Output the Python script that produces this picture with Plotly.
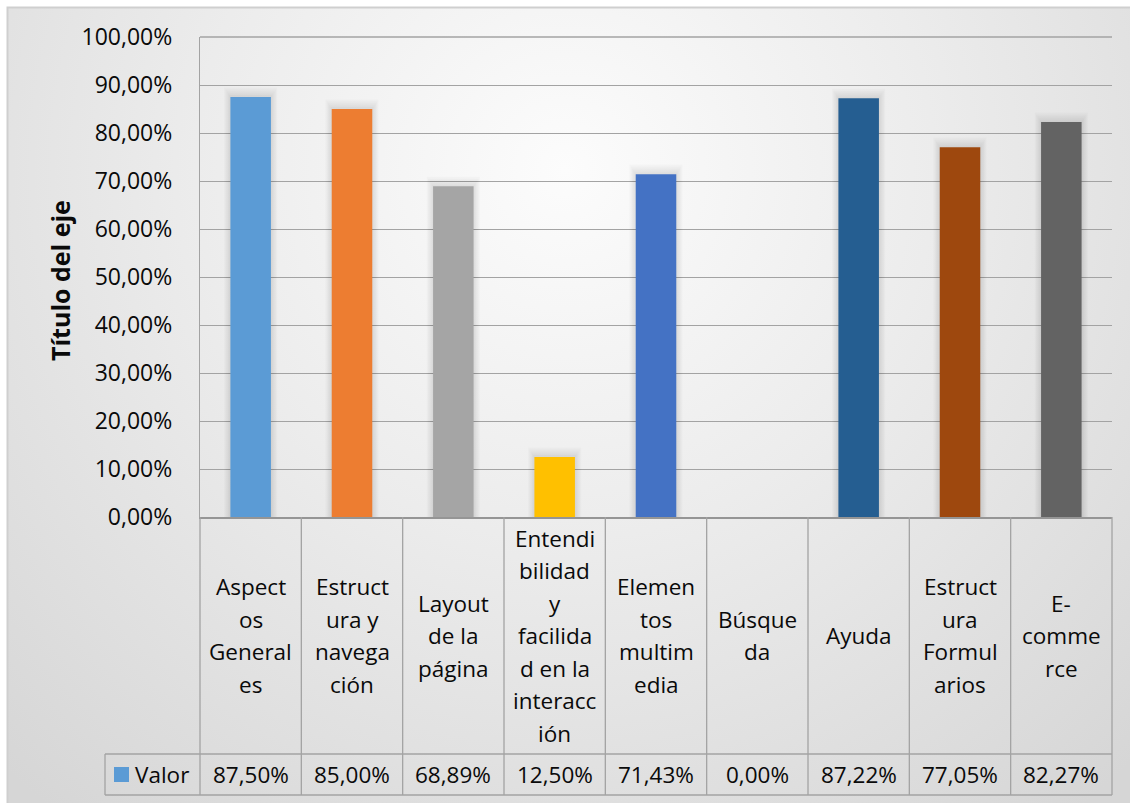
import base64
import plotly.graph_objects as go

# ---- data ----
categories = [
    "Aspectos Generales", "Estructura y navegación", "Layout de la página",
    "Entendibilidad y facilidad en la interacción", "Elementos multimedia",
    "Búsqueda", "Ayuda", "Estructura Formularios", "E-commerce",
]
label_lines = [
    ["Aspect", "os", "General", "es"],
    ["Estruct", "ura y", "navega", "ción"],
    ["Layout", "de la", "página"],
    ["Entendi", "bilidad", "y", "facilida", "d en la", "interacc", "ión"],
    ["Elemen", "tos", "multim", "edia"],
    ["Búsque", "da"],
    ["Ayuda"],
    ["Estruct", "ura", "Formul", "arios"],
    ["E-", "comme", "rce"],
]
values = [0.875, 0.85, 0.6889, 0.125, 0.7143, 0.0, 0.8722, 0.7705, 0.8227]
colors = ["#5B9BD5", "#ED7D31", "#A5A5A5", "#FFC000", "#4472C4",
          "#70AD47", "#255E91", "#9E480E", "#636363"]
series_name = "Valor"
y_title = "Título del eje"

# ---- geometry (pixels) ----
W, H = 1130, 803
L, R, T, B = 200, 18, 37, 286
PW, PH = W - L - R, H - T - B
FONT = "Open Sans"
GRID = "#A3A3A3"
TXT = "#0a0a0a"

def py(p):  # pixel y -> paper y
    return (H - B - p) / PH

def px(p):  # pixel x -> paper x
    return (p - L) / PW

n = len(categories)
x_idx = list(range(n))

fig = go.Figure()
# soft shadow layers under the bars
for k in (5, 4, 3, 2, 1):
    fig.add_trace(go.Bar(
        x=x_idx, y=[v + 0.004 * k if v > 0 else 0 for v in values],
        width=0.4 + 0.025 * k,
        marker=dict(color="rgba(0,0,0,0.018)", line=dict(width=0)),
        showlegend=False, hoverinfo="skip",
    ))
fig.add_trace(go.Bar(
    x=x_idx, y=values, width=0.4, marker=dict(color=colors, line=dict(width=0)),
    name=series_name, showlegend=False, hoverinfo="skip",
))

# background gradient
svg = f'''<svg xmlns="http://www.w3.org/2000/svg" width="{W}" height="{H}" viewBox="0 0 {W} {H}">
<defs><radialGradient id="g" gradientUnits="userSpaceOnUse" cx="565" cy="170" r="820">
<stop offset="0" stop-color="#fcfcfc"/><stop offset="0.45" stop-color="#ececec"/><stop offset="1" stop-color="#d6d6d6"/></radialGradient></defs>
<rect x="0" y="0" width="{W}" height="{H}" fill="#ffffff"/>
<rect x="7.5" y="7.5" width="{W+10}" height="{H+10}" fill="url(#g)" stroke="#cfcfcf" stroke-width="2"/>
</svg>'''
src = "data:image/svg+xml;base64," + base64.b64encode(svg.encode()).decode()

shapes = []
line = dict(color=GRID, width=1.3)
table_bottom = 795
row_top = 754
# top gridline (100%)
shapes.append(dict(type="line", xref="paper", yref="paper",
                   x0=0, x1=1, y0=1, y1=1, line=line))
# vertical column lines in table
for k in range(n + 1):
    xp = k / n
    shapes.append(dict(type="line", xref="paper", yref="paper",
                       x0=xp, x1=xp, y0=py(H - B), y1=py(table_bottom), line=line))
# horizontal lines
shapes.append(dict(type="line", xref="paper", yref="paper",
                   x0=px(105), x1=1, y0=py(row_top), y1=py(row_top), line=line))
shapes.append(dict(type="line", xref="paper", yref="paper",
                   x0=px(105), x1=1, y0=py(table_bottom), y1=py(table_bottom), line=line))
shapes.append(dict(type="line", xref="paper", yref="paper",
                   x0=px(105), x1=px(105), y0=py(row_top), y1=py(table_bottom), line=line))
# legend key
shapes.append(dict(type="rect", xref="paper", yref="paper",
                   x0=px(114), x1=px(129), y0=py(782), y1=py(767),
                   fillcolor=colors[0], line=dict(width=0)))

annotations = []
cell_c = (H - B + row_top) / 2
lh = 32.5
FS = 22.5
for i, lines in enumerate(label_lines):
    m = len(lines)
    for j, t in enumerate(lines):
        yc = cell_c + (j - (m - 1) / 2) * lh
        annotations.append(dict(x=i, xref="x", y=py(yc), yref="paper", text=t,
                                showarrow=False, xanchor="center", yanchor="middle",
                                font=dict(family=FONT, size=FS, color=TXT)))
val_c = (row_top + table_bottom) / 2
for i, v in enumerate(values):
    txt = f"{v*100:.2f}%".replace(".", ",")
    annotations.append(dict(x=i, xref="x", y=py(val_c), yref="paper", text=txt,
                            showarrow=False, xanchor="center", yanchor="middle",
                            font=dict(family=FONT, size=FS, color=TXT)))
annotations.append(dict(x=px(133), xref="paper", y=py(val_c), yref="paper",
                        text=series_name, showarrow=False, xanchor="left",
                        yanchor="middle", font=dict(family=FONT, size=FS, color=TXT)))
annotations.append(dict(x=px(60), xref="paper", y=py(281), yref="paper", text=f"<b>{y_title}</b>",
                        textangle=-90, showarrow=False, xanchor="center", yanchor="middle",
                        font=dict(family=FONT, size=25, color=TXT)))

fig.update_layout(
    width=W, height=H, margin=dict(l=L, r=R, t=T, b=B),
    paper_bgcolor="rgba(0,0,0,0)", plot_bgcolor="rgba(0,0,0,0)",
    separators=",.", barmode="overlay", showlegend=False,
    images=[dict(source=src, xref="paper", yref="paper", x=px(0), y=py(0),
                 sizex=W / PW, sizey=H / PH, xanchor="left", yanchor="top",
                 sizing="stretch", layer="below")],
    shapes=shapes, annotations=annotations,
    xaxis=dict(range=[-0.5, n - 0.5], showticklabels=False, showgrid=False,
               zeroline=False, showline=True, linecolor="#959595", linewidth=1.6,
               ticks="", fixedrange=True),
    yaxis=dict(range=[0, 1], dtick=0.1, tick0=0, tickformat=".2%",
               showgrid=True, gridcolor=GRID, gridwidth=1.3,
               showline=True, linecolor=GRID, linewidth=1.3, zeroline=False,
               ticks="outside", ticklen=22, tickcolor="rgba(0,0,0,0)",
               tickfont=dict(family=FONT, size=23, color=TXT)),
)

fig.write_html("out.html")
